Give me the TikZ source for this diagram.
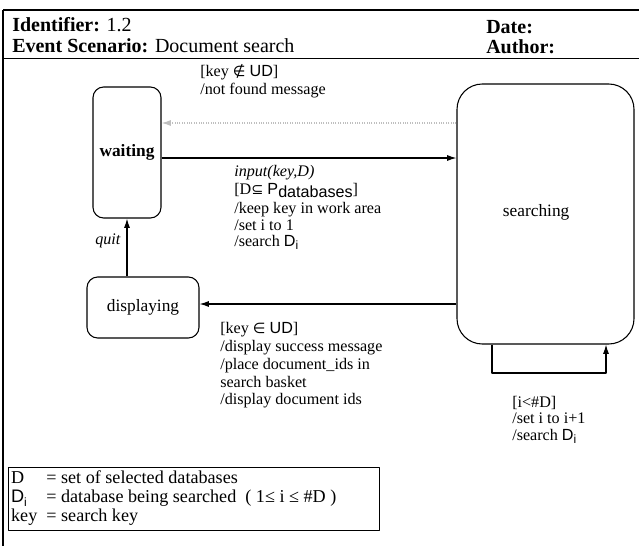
\documentclass[tikz,border=0pt]{standalone}
\usepackage{fontspec}
\setmainfont{Liberation Serif}
\setsansfont{Liberation Sans}
\newfontfamily\symfont[Scale=0.9]{DejaVu Sans}
\usetikzlibrary{arrows.meta}

\newcommand{\subDi}{{\sffamily D\raisebox{-0.35ex}{\small i}}}

\begin{document}
\begin{tikzpicture}[x=0.75pt, y=-0.75pt, font=\fontsize{12.1}{12.4}\selectfont, line join=round, >={Latex[length=7pt,width=4.5pt]}]
	\tikzset{state/.style={draw, line width=0.8pt, align=center, font=\fontsize{13}{14}\selectfont},
		lbl/.style={anchor=north west, align=left, inner sep=0pt},
		head/.style={anchor=west, inner sep=0pt, font=\fontsize{15}{16}\selectfont}}
	\useasboundingbox (0,0) rectangle (639,546);
	% frame and header
	\coordinate (tl) at (3,10);
	\coordinate (tr) at (639,10);
	\coordinate (bl) at (3,546);
	\coordinate (hl) at (3,58);
	\coordinate (hr) at (639,58);
	\draw[line width=1.5pt] (tl)--(tr);
	\draw[line width=0.9pt] (tl)--(bl);
	\draw[line width=0.7pt] (hl)--(hr);
	\node[head] (ident) at (12,25) {\textbf{Identifier:} 1.2};
	\node[head] (scen) at (12,46) {\textbf{Event Scenario:} Document search};
	\node[head] (date) at (486,27) {\textbf{Date:}};
	\node[head] (auth) at (486,47) {\textbf{Author:}};
	% states
	\node[state, rounded corners=8pt, minimum width=51pt, minimum height=98.25pt] (waiting) at (127,152.5) {\textbf{waiting}};
	\node[state, rounded corners=8pt, minimum width=84pt, minimum height=45.75pt] (displaying) at (143,307.5) {displaying};
	\node[state, rounded corners=19pt, minimum width=132.75pt, minimum height=195pt] (searching) at (545.5,214) {\raisebox{6pt}{searching\hspace{14pt}}};
	% rows of the transitions
	\coordinate (rownf) at (0,123);
	\coordinate (rowin) at (0,158);
	\coordinate (rowok) at (0,304);
	\coordinate (loopl) at (492,373);
	\coordinate (loopr) at (606,373);
	\draw[->, gray!50, densely dotted, line width=0.8pt] (searching.west |- rownf) -- (waiting.east |- rownf);
	\draw[->, line width=0.8pt] (waiting.east |- rowin) -- (searching.west |- rowin);
	\draw[->, line width=0.8pt] (searching.west |- rowok) -- (displaying.east |- rowok);
	\draw[->, line width=0.8pt] (displaying.north -| waiting.south) -- (waiting.south);
	\draw[->, line width=0.8pt] (searching.south -| loopl) -- (loopl) -- (loopr) -- (searching.south -| loopr);
	% labels
	\node[lbl] (nflbl) at (200,64) {[key {\symfont ∉} {\sffamily UD}]\\[1pt]/not found message};
	\node[lbl] (inlbl) at (234,165) {\textit{input(key,D)}\\[1pt][D{\symfont ⊆} {\sffamily P\raisebox{-0.4ex}{databases}}]\\[2pt]/keep key in work area\\/set i to 1\\/search \subDi};
	\node[anchor=east, inner sep=0pt] (quitlbl) at (121,241) {\textit{quit}};
	\node[lbl] (oklbl) at (220,322) {[key {\symfont ∈} {\sffamily UD}]\\[1pt]/display success message\\[1pt]/place document\_ids in\\[1pt]search basket\\[1pt]/display document ids};
	\node[lbl] (looplbl) at (512,396) {[i<\#D]\\/set i to i+1\\/search \subDi};
	% legend
	\node[draw, line width=0.7pt, anchor=north west, inner sep=2pt, align=left, font=\fontsize{13.6}{14.4}\selectfont] (legend) at (8,467)
		{\begin{tabular}{@{}l@{\ \ }l@{}}
			D & = set of selected databases\\
			\subDi & = database being searched\ \ ( 1≤ i ≤ \#D )\\
			key & = search key
		\end{tabular}\hspace{30pt}};
\end{tikzpicture}
\end{document}
